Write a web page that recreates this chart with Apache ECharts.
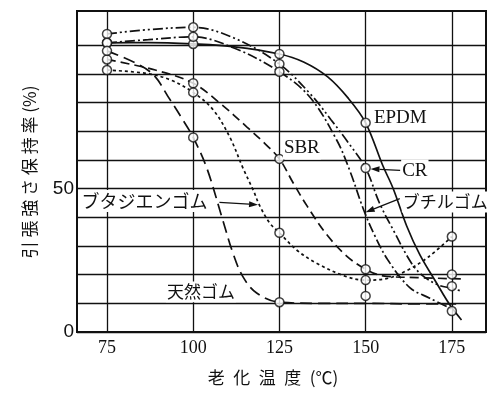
<!DOCTYPE html>
<html>
<head>
<meta charset="utf-8">
<script src="https://cdn.jsdelivr.net/npm/echarts@6/dist/echarts.min.js"></script>
<style>
  html, body { margin: 0; padding: 0; background: #fff; }
  #chart { width: 487px; height: 398px; }
</style>
</head>
<body>
<div id="chart"></div>
<script>
// Aging temperatures (°C) at which retention was measured
const temps = [75, 100, 125, 150, 175];

// Measured tensile-strength retention (%) — null where no point was plotted
const epdmPoints = [100.9, 100.5, 97, 73, 7.3];
const crPoints = [104, 106.3, 93.5, 57.2, 16];
const butylPoints = [100.9, 103, 90.8, null, null];
const sbrPoints = [95.1, 86.8, 60.4, 21.9, 20.1];
const butadienePoints = [91.4, 83.6, 34.6, 18.1, 33.3];
const naturalPoints = [98.1, 67.9, 10.4, 12.6, null];

// Hand-fitted trend curves, [temperature, retention]
const epdmCurve = [[75, 100.9], [87, 101], [100, 100.5], [112, 99.5], [125, 97], [132, 94.2], [139, 89], [145, 81.5], [150, 73], [155, 58], [158, 50], [161.9, 37], [165.7, 27], [170.6, 17], [174.4, 9.5], [177.8, 4.2]];
const crCurve = [[75, 104], [87, 105.5], [100, 106.3], [112, 102.5], [125, 93.5], [134, 83], [140, 74], [145, 66], [150, 57.2], [154, 45], [158, 35.6], [163.3, 24], [166.7, 19.5], [171.5, 16.2], [175, 15.3], [177.8, 14.2]];
const butylCurve = [[75, 100.9], [87, 102], [100, 103], [112, 99], [125, 90.8], [133.8, 82], [141.6, 67], [145.5, 56], [149.3, 43], [152.5, 34], [156.5, 25], [162.8, 15.5], [168.6, 11.8], [175, 8]];
const sbrCurve = [[75, 95.1], [89, 91.4], [100, 86.8], [107.8, 79.8], [115.5, 71.6], [121, 65.5], [125, 60.4], [129, 52], [133, 44], [138.7, 34], [144.5, 26.5], [150, 21.9], [155, 19.6], [165, 19], [178, 18.5]];
const butadieneCurve = [[75, 91.4], [86.5, 90.2], [93.3, 88], [100, 83.6], [105.8, 77.5], [110.6, 68], [114.5, 57], [117.4, 49.5], [119.3, 44], [122.2, 38], [125, 34.6], [130, 28.6], [135.8, 24], [144, 19.5], [150, 18.1], [156, 18.6], [162, 21.5], [168, 26], [175, 33.3]];
const naturalCurve = [[75, 98.1], [87.5, 90.8], [93.3, 81], [97, 74], [100, 67.9], [104, 57], [108.6, 38.9], [111.5, 27.6], [114.4, 19.3], [118.4, 13.6], [125, 10.4], [137, 10], [150, 10], [165, 9.8], [177.6, 9.8]];

// Axis ticks
const xTickValues = [75, 100, 125, 150, 175];
const yGridValues = [0, 10, 20, 30, 40, 50, 60, 70, 80, 90, 100];
const yLabelValues = [0, 50];

const INK = '#111';
const CJK = '"Noto Sans CJK JP", "Noto Sans", sans-serif';
const SERIF = '"Liberation Serif", "DejaVu Serif", serif';

const pointPairs = (ys) => temps.map((t, i) => [t, ys[i]]).filter(p => p[1] !== null);

const rubbers = [
  { name: 'EPDM', curve: epdmCurve, points: epdmPoints, dash: 'solid' },
  { name: 'CR', curve: crCurve, points: crPoints, dash: [10, 3, 2, 3, 2, 3] },
  { name: 'ブチルゴム', curve: butylCurve, points: butylPoints, dash: [10, 3, 2, 3] },
  { name: 'SBR', curve: sbrCurve, points: sbrPoints, dash: [9, 5] },
  { name: 'ブタジエンゴム', curve: butadieneCurve, points: butadienePoints, dash: [3, 3] },
  { name: '天然ゴム', curve: naturalCurve, points: naturalPoints, dash: [12, 6] }
];

const series = [];
rubbers.forEach(r => {
  series.push({
    name: r.name, type: 'line', data: r.curve,
    smooth: 0.35, symbol: 'none',
    lineStyle: { color: INK, width: 1.7, type: r.dash },
    emphasis: { disabled: true }, z: 3
  });
});
rubbers.forEach(r => {
  series.push({
    name: r.name, type: 'scatter', data: pointPairs(r.points),
    symbol: 'circle', symbolSize: 9,
    itemStyle: { color: '#fff', borderColor: INK, borderWidth: 1.5 },
    emphasis: { disabled: true }, z: 5
  });
});

const chart = echarts.init(document.getElementById('chart'), null, { renderer: 'canvas' });

chart.setOption({
  backgroundColor: '#fff',
  animation: false,
  grid: {
    left: 77, right: 1, top: 11, bottom: 66,
    show: true, borderColor: INK, borderWidth: 2,
    outerBoundsMode: 'none'
  },
  xAxis: {
    type: 'value', min: 66.3, max: 184.9,
    axisLine: { show: true, lineStyle: { color: INK, width: 2 } },
    axisTick: { show: false, customValues: xTickValues },
    axisLabel: {
      customValues: xTickValues, margin: 7,
      color: INK, fontFamily: SERIF, fontSize: 18
    },
    splitLine: { show: true, lineStyle: { color: INK, width: 1.3 } }
  },
  yAxis: {
    type: 'value', min: 0, max: 112,
    axisLine: { show: true, lineStyle: { color: INK, width: 2 } },
    axisTick: { show: false, customValues: yGridValues },
    axisLabel: {
      customValues: yLabelValues, margin: 3,
      color: INK, fontFamily: '"Liberation Sans", Arial, sans-serif', fontSize: 19
    },
    splitLine: { show: true, lineStyle: { color: INK, width: 1.3 } }
  },
  series
});

// Curve labels, anchored in data coordinates
const notes = [
  { text: 'EPDM', at: [152.1, 74.7], font: SERIF, size: 19 },
  { text: 'SBR', at: [126.0, 64.2], font: SERIF, size: 19 },
  { text: 'CR', at: [160.3, 56.2], font: SERIF, size: 19 },
  { text: 'ブチルゴム', at: [160.5, 45.4], font: CJK, size: 17 },
  { text: 'ブタジエンゴム', at: [67.3, 45.7], font: CJK, size: 18 },
  { text: '天然ゴム', at: [92.1, 14.0], font: CJK, size: 17 }
];
// Leader arrows: from label to curve
const arrows = [
  { from: [160.0, 56.4], to: [151.4, 56.9] },
  { from: [159.9, 46.5], to: [150.0, 41.8] },
  { from: [107.6, 45.2], to: [118.8, 44.4] }
];

const px = (p) => chart.convertToPixel({ gridIndex: 0 }, p);
const graphics = [];

notes.forEach(n => {
  const [x, y] = px(n.at);
  graphics.push({
    type: 'text', x, y, z: 10,
    style: {
      text: n.text, fill: INK, font: `${n.size}px ${n.font}`,
      align: 'left', verticalAlign: 'middle',
      backgroundColor: '#fff', padding: [2, 1]
    }
  });
});

arrows.forEach(a => {
  const [x1, y1] = px(a.from);
  const [x2, y2] = px(a.to);
  const dx = x2 - x1, dy = y2 - y1;
  const len = Math.hypot(dx, dy);
  const ux = dx / len, uy = dy / len;
  const hl = 9, hw = 3;
  const bx = x2 - ux * hl, by = y2 - uy * hl;
  graphics.push({
    type: 'line', z: 10,
    shape: { x1, y1, x2: bx, y2: by },
    style: { stroke: INK, lineWidth: 1.3 }
  });
  graphics.push({
    type: 'polygon', z: 10,
    shape: { points: [[x2, y2], [bx - uy * hw, by + ux * hw], [bx + uy * hw, by - ux * hw]] },
    style: { fill: INK }
  });
});

// Axis titles
graphics.push({
  type: 'text', x: 273, y: 378, z: 10,
  style: {
    text: '老\u2002化\u2002温\u2002度\u2002(℃)', fill: INK, font: `17px ${CJK}`,
    align: 'center', verticalAlign: 'middle'
  }
});
graphics.push({
  type: 'text', x: 30, y: 172, rotation: Math.PI / 2, z: 10,
  style: {
    text: '引 張 強 さ 保 持 率 (%)', fill: INK, font: `17px ${CJK}`,
    align: 'center', verticalAlign: 'middle'
  }
});

chart.setOption({ graphic: graphics });
</script>
</body>
</html>
